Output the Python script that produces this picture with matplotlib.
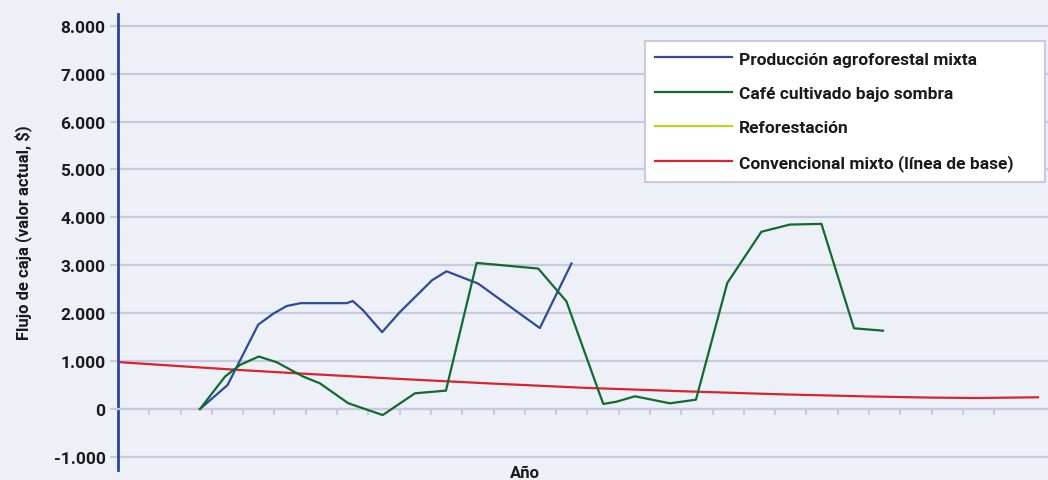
"""
Flujo de caja por sistema de uso de la tierra
"""
import matplotlib
matplotlib.use("Agg")
import matplotlib.pyplot as plt

# --- data (year, cash flow in $) ---
agro_years = [2.62, 3.50, 4.48, 4.96, 5.39, 5.84, 7.31, 7.50, 7.82, 8.44,
              9.01, 10.04, 10.50, 11.51, 13.48, 14.49]
agro_flow = [0, 500, 1760, 1990, 2150, 2210, 2210, 2255, 2070, 1605,
             2025, 2690, 2875, 2618, 1690, 3037]

cafe_years = [2.62, 3.42, 3.90, 4.50, 5.07, 5.92, 6.45, 7.36, 8.46, 9.49,
              10.48, 11.46, 13.43, 14.33, 15.38, 15.51, 15.93, 16.52, 17.64,
              18.47, 19.47, 20.56, 21.47, 22.48, 23.52, 24.45]
cafe_flow = [0, 677, 921, 1096, 977, 677, 537, 120, -126, 328,
             384, 3050, 2932, 2247, 335, 105, 153, 266, 119,
             195, 2630, 3700, 3850, 3865, 1685, 1635]

# reforestation appears only in the legend
refor_years = []
refor_flow = []

base_years = [0, 2, 4, 6, 9, 12, 15, 18, 21, 24, 26, 27.5, 29.4]
base_flow = [980, 894, 810, 735, 628, 530, 440, 372, 310, 262, 238, 230, 245]

series_labels = ["Producción agroforestal mixta", "Café cultivado bajo sombra",
                 "Reforestación", "Convencional mixto (línea de base)"]
y_ticks = [-1000, 0, 1000, 2000, 3000, 4000, 5000, 6000, 7000, 8000]
y_tick_labels = ["-1.000", "0", "1.000", "2.000", "3.000", "4.000",
                 "5.000", "6.000", "7.000", "8.000"]
x_ticks = list(range(1, 29))

BG = "#eef0f8"
GRID = "#c9c9df"

plt.rcParams['font.family'] = ['Roboto', 'DejaVu Sans']

fig = plt.figure(figsize=(10.48, 4.81), dpi=100, facecolor=BG)
ax = fig.add_axes([118 / 1048, 1 - 471 / 481, (1048 - 118) / 1048, (471 - 15) / 481])
ax.set_facecolor(BG)

ax.plot(agro_years, agro_flow, color="#2e4a9a", lw=1.6, label=series_labels[0], zorder=3)
ax.plot(cafe_years, cafe_flow, color="#0f6b2e", lw=1.6, label=series_labels[1], zorder=3)
ax.plot(refor_years, refor_flow, color="#c2d21c", lw=1.6, label=series_labels[2], zorder=3)
ax.plot(base_years, base_flow, color="#d9232e", lw=1.6, label=series_labels[3], zorder=2)

ax.set_xlim(0, 29.72)
ax.set_ylim(-1273, 8246)

# horizontal grid
ax.set_yticks(y_ticks)
ax.set_yticklabels(y_tick_labels, fontsize=12.5, fontweight='bold', color="#1a1a1a")
ax.yaxis.grid(True, color=GRID, lw=1.6, zorder=0)
ax.set_axisbelow(True)
ax.tick_params(axis='y', length=6, width=1.5, color=GRID, pad=3)

# x ticks hang off the zero line
ax.set_xticks(x_ticks)
ax.set_xticklabels([])
ax.tick_params(axis='x', length=4, width=1.6, color=GRID, direction='out')
ax.spines['bottom'].set_position(('data', 0))
ax.spines['bottom'].set_color(GRID)
ax.spines['bottom'].set_linewidth(1.6)
ax.spines['top'].set_visible(False)
ax.spines['right'].set_visible(False)
ax.spines['left'].set_color("#2b46a0")
ax.spines['left'].set_linewidth(2)

fig.text(23 / 1048, 1 - 233 / 481, "Flujo de caja (valor actual, $)", rotation=90,
         ha='center', va='center', fontsize=12, fontweight='bold', color="#1a1a1a")
fig.text(525 / 1048, 1 - 474 / 481, "Año", ha='center', va='center',
         fontsize=12, fontweight='bold', color="#1a1a1a")

# legend box: x 645..1045, y 42..177 px
leg = fig.legend(loc='upper left',
                 bbox_to_anchor=(645 / 1048, 1 - 177 / 481, 400 / 1048, 135 / 481),
                 mode='expand', prop={'size': 12.5, 'weight': 'bold'},
                 handlelength=4.4, handletextpad=0.4, labelspacing=1.1,
                 borderpad=0.6, fancybox=False, frameon=True, framealpha=1,
                 borderaxespad=0)
leg.get_frame().set_edgecolor(GRID)
leg.get_frame().set_linewidth(1.5)
leg.get_frame().set_facecolor("white")
for t in leg.get_texts():
    t.set_color("#1a1a1a")

plt.savefig("out.png", dpi=100, facecolor=BG)
plt.close()
